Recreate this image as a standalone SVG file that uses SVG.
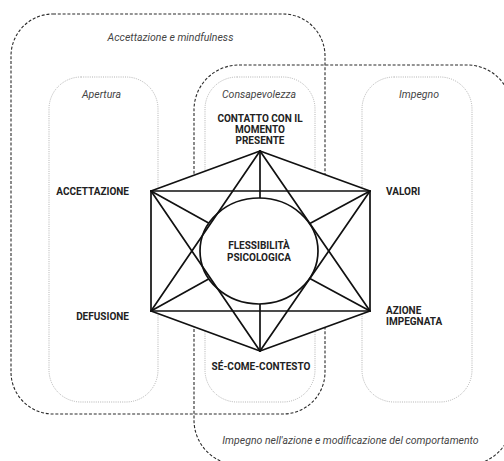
<svg xmlns="http://www.w3.org/2000/svg" width="504" height="461" viewBox="0 0 504 461">
<style>
.outer{fill:none;stroke:#2a2a2a;stroke-width:1.1;stroke-dasharray:3 1.8}
.inner{fill:none;stroke:#a0a0a0;stroke-width:0.8;stroke-dasharray:1 1.2}
.it{font-family:Roboto,"Liberation Sans",sans-serif;font-style:italic;font-size:10.5px;fill:#444;text-anchor:middle}
.b{font-family:Roboto,"Liberation Sans",sans-serif;font-weight:bold;font-size:10px;fill:#222}
.c{text-anchor:middle}
.e{text-anchor:end}
.ln{stroke:#111;stroke-width:1.7;fill:none;stroke-linecap:round;stroke-linejoin:round}
</style>
<rect width="504" height="461" fill="#fff"/>
<g id="group-accettazione-mindfulness">
<rect class="outer" x="11" y="14" width="314" height="400" rx="42"/>
<text class="it" x="170.5" y="40.5">Accettazione e mindfulness</text>
</g>
<g id="group-impegno-azione">
<rect class="outer" x="194" y="65" width="318" height="400" rx="45"/>
<text class="it" x="350.5" y="443.5">Impegno nell'azione e modificazione del comportamento</text>
</g>
<g id="group-apertura">
<rect class="inner" x="49" y="77" width="109" height="325" rx="32"/>
<text class="it" x="101.5" y="97.5">Apertura</text>
</g>
<g id="group-consapevolezza">
<rect class="inner" x="205" y="77" width="110" height="325" rx="32"/>
<text class="it" x="259" y="97.5">Consapevolezza</text>
</g>
<g id="group-impegno">
<rect class="inner" x="362" y="77" width="110" height="325" rx="32"/>
<text class="it" x="419" y="97.5">Impegno</text>
</g>
<g id="connectors">
<polygon class="ln" points="260,151 370,191 370,311 260,351 151,311 151,191" style="fill:#fff"/>
<line class="ln" x1="151" y1="191" x2="370" y2="191"/>
<line class="ln" x1="151" y1="311" x2="370" y2="311"/>
<line class="ln" x1="151" y1="191" x2="259" y2="251"/>
<line class="ln" x1="370" y1="191" x2="259" y2="251"/>
<line class="ln" x1="151" y1="311" x2="259" y2="251"/>
<line class="ln" x1="370" y1="311" x2="259" y2="251"/>
<line class="ln" x1="260" y1="151" x2="260" y2="351"/>
<ellipse class="ln" cx="259" cy="251" rx="59" ry="53" style="fill:#fff"/>
<line class="ln" x1="260" y1="151" x2="151" y2="311"/>
<line class="ln" x1="260" y1="151" x2="370" y2="311"/>
<line class="ln" x1="260" y1="351" x2="151" y2="191"/>
<line class="ln" x1="260" y1="351" x2="370" y2="191"/>
</g>
<g id="node-flessibilita">
<text class="b c" x="259" y="249">FLESSIBILITÀ</text>
<text class="b c" x="259" y="260.5">PSICOLOGICA</text>
</g>
<g id="node-contatto">
<text class="b c" x="260" y="121.5">CONTATTO CON IL</text>
<text class="b c" x="260" y="132.5">MOMENTO</text>
<text class="b c" x="260" y="144">PRESENTE</text>
</g>
<g id="node-accettazione">
<text class="b e" x="129" y="194.5">ACCETTAZIONE</text>
</g>
<g id="node-valori">
<text class="b" x="386" y="194.5">VALORI</text>
</g>
<g id="node-defusione">
<text class="b e" x="129" y="319.5">DEFUSIONE</text>
</g>
<g id="node-azione">
<text class="b" x="386" y="313.5">AZIONE</text>
<text class="b" x="386" y="324.5">IMPEGNATA</text>
</g>
<g id="node-se-come-contesto">
<text class="b c" x="261" y="369.5">SÉ-COME-CONTESTO</text>
</g>
</svg>
